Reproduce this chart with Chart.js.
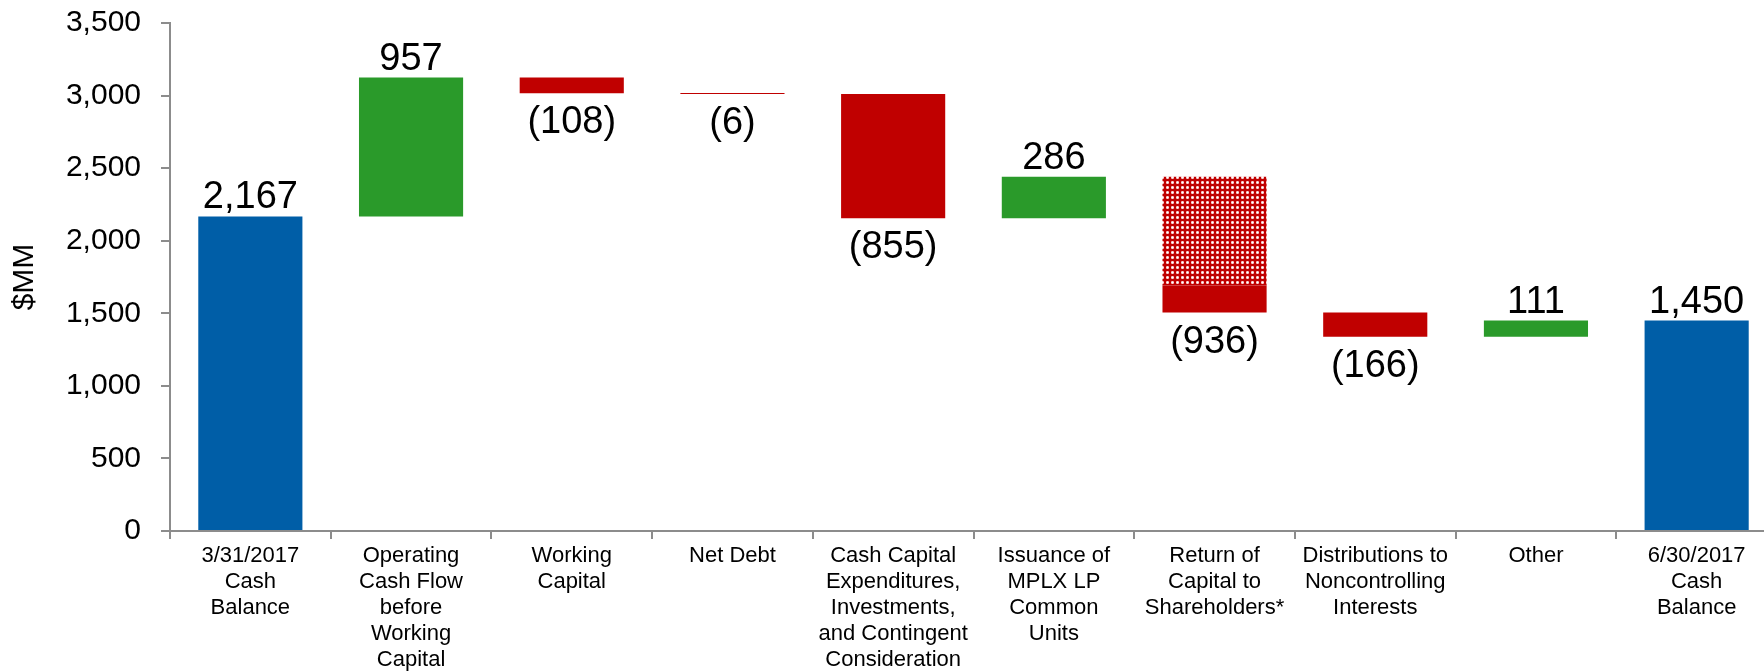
<!DOCTYPE html>
<html>
<head>
<meta charset="utf-8">
<script src="https://cdn.jsdelivr.net/npm/chart.js@4/dist/chart.umd.min.js"></script>
<style>
  html, body { margin: 0; padding: 0; background: #fff; overflow: hidden; }
  #wrap { width: 1800px; height: 672px; }
</style>
</head>
<body>
<div id="wrap"><canvas id="cashChart"></canvas></div>
<script>
// ==== Data ====
const categories = [
  ['3/31/2017', 'Cash', 'Balance'],
  ['Operating', 'Cash Flow', 'before', 'Working', 'Capital'],
  ['Working', 'Capital'],
  ['Net Debt'],
  ['Cash Capital', 'Expenditures,', 'Investments,', 'and Contingent', 'Consideration'],
  ['Issuance of', 'MPLX LP', 'Common', 'Units'],
  ['Return of', 'Capital to', 'Shareholders*'],
  ['Distributions to', 'Noncontrolling', 'Interests'],
  ['Other'],
  ['6/30/2017', 'Cash', 'Balance']
];
const changes = [2167, 957, -108, -6, -855, 286, -936, -166, 111, 1450];
const kinds = ['total', 'up', 'down', 'down', 'down', 'up', 'down', 'down', 'up', 'total'];
// Return of Capital split: dotted part on top, solid part underneath
const returnIndex = 6;
const returnDotted = 750;
const returnSolid = 186;
const yTicks = [0, 500, 1000, 1500, 2000, 2500, 3000, 3500];

// ==== Colours ====
const blue = '#005ea7';
const green = '#2a9a2a';
const red = '#c00000';
const fontFamily = "'Liberation Sans', Arial, sans-serif";

// dotted red pattern (white dots on red)
function makeDots() {
  const c = document.createElement('canvas');
  c.width = 5; c.height = 5;
  const g = c.getContext('2d');
  g.fillStyle = red; g.fillRect(0, 0, 5, 5);
  g.fillStyle = '#e58a8a'; g.fillRect(1, 1, 3, 3);
  g.fillStyle = '#f8d6d6'; g.fillRect(2, 1, 1, 3); g.fillRect(1, 2, 3, 1);
  g.fillStyle = '#ffffff'; g.fillRect(2, 2, 1, 1);
  return g.createPattern(c, 'repeat');
}

// ==== Build floating ranges ====
let running = 0;
const ranges = [];
const patternRanges = [];
const colors = [];
for (let i = 0; i < changes.length; i++) {
  const v = changes[i];
  patternRanges.push(null);
  if (kinds[i] === 'total') {
    ranges.push([0, v]);
    running = v;
    colors.push(blue);
    continue;
  }
  const start = running, end = running + v;
  running = end;
  colors.push(v >= 0 ? green : red);
  if (i === returnIndex) {
    ranges.push([end, end + returnSolid]);
    patternRanges[i] = [end + returnSolid, end + returnSolid + returnDotted];
  } else {
    ranges.push([Math.min(start, end), Math.max(start, end)]);
  }
}

function fmt(v) {
  const s = Math.abs(v).toLocaleString('en-US');
  return v < 0 ? '(' + s + ')' : s;
}

// ==== Value labels ====
const valueLabels = {
  id: 'valueLabels',
  afterDatasetsDraw(chart) {
    const ctx = chart.ctx;
    const x = chart.scales.x, y = chart.scales.y;
    ctx.save();
    ctx.font = '38px ' + fontFamily;
    ctx.fillStyle = '#000';
    ctx.textAlign = 'center';
    ctx.textBaseline = 'alphabetic';
    changes.forEach((v, i) => {
      const r = ranges[i];
      const p = patternRanges[i];
      const top = Math.max(r[1], p ? p[1] : r[1]);
      const bottom = r[0];
      const cx = x.getPixelForValue(i);
      if (v >= 0) {
        ctx.fillText(fmt(v), cx, y.getPixelForValue(top) - 8);
      } else {
        ctx.fillText(fmt(v), cx, y.getPixelForValue(bottom) + 40);
      }
    });
    ctx.restore();
  }
};

const ctx = document.getElementById('cashChart').getContext('2d');
const chart = new Chart(ctx, {
  type: 'bar',
  data: {
    labels: categories,
    datasets: [
      { data: ranges, backgroundColor: colors, borderWidth: 0, grouped: false, minBarLength: 1,
        barPercentage: 0.648, categoryPercentage: 1 },
      { data: patternRanges, backgroundColor: makeDots(), borderWidth: 0, grouped: false,
        barPercentage: 0.648, categoryPercentage: 1 }
    ]
  },
  options: {
    responsive: true,
    maintainAspectRatio: false,
    animation: false,
    devicePixelRatio: 1,
    layout: { padding: { top: 0, right: 23, bottom: 0, left: 0 } },
    plugins: { legend: { display: false }, tooltip: { enabled: false } },
    scales: {
      x: {
        grid: { display: true, drawOnChartArea: false, offset: true, tickLength: 8, color: '#8c8c8c', lineWidth: 2 },
        border: { display: true, color: '#8c8c8c', width: 2 },
        ticks: { color: '#000', font: { family: fontFamily, size: 22, lineHeight: 1.18 },
                 maxRotation: 0, autoSkip: false, padding: 4 },
        afterFit(scale) { scale.height = 141; }
      },
      y: {
        min: 0, max: 3500,
        afterBuildTicks(scale) { scale.ticks = yTicks.map(v => ({ value: v })); },
        grid: { display: true, drawOnChartArea: false, tickLength: 9, color: '#8c8c8c', lineWidth: 2 },
        border: { display: true, color: '#8c8c8c', width: 2 },
        ticks: { color: '#000', font: { family: fontFamily, size: 30 }, padding: 20,
                 callback: v => v.toLocaleString('en-US') },
        title: { display: true, text: '$MM', color: '#000', font: { family: fontFamily, size: 30 },
                 padding: { top: 7, bottom: 0 } },
        afterFit(scale) {
          scale.width = 170;
          scale.paddingTop = 23; // keep the 3,500 tick near the top edge
        }
      }
    }
  },
  plugins: [valueLabels]
});
</script>
</body>
</html>
